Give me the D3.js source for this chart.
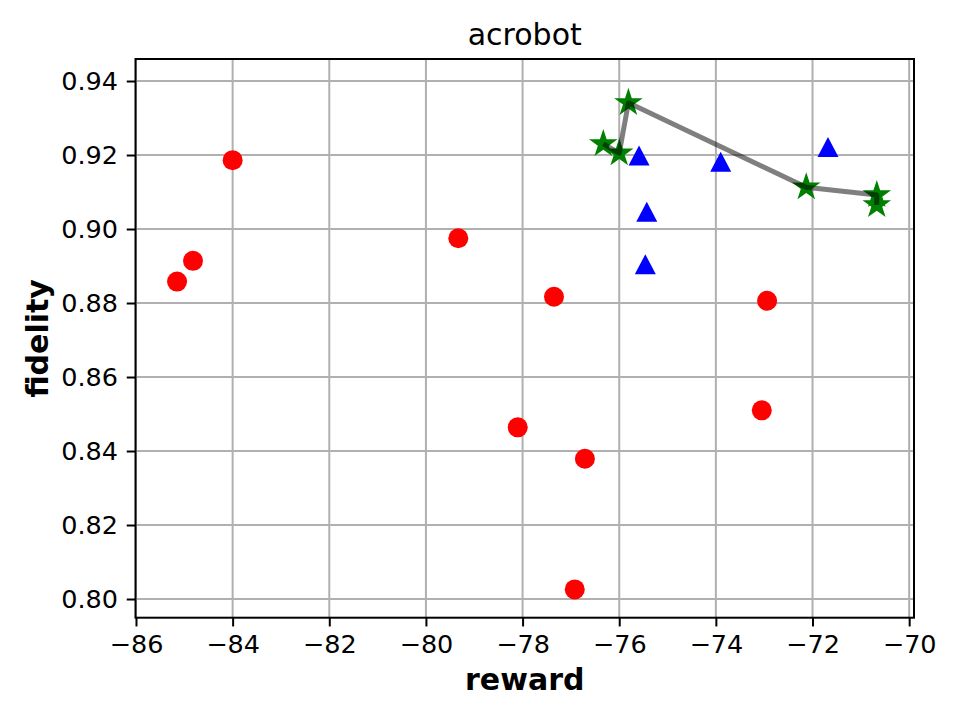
<!DOCTYPE html>
<html><head><meta charset="utf-8">
<script src="https://cdn.jsdelivr.net/npm/d3@7"></script>
<style>body{margin:0;background:#fff}svg{display:block}text{font-family:"DejaVu Sans",sans-serif}</style>
</head><body>
<script>
const title = "acrobot";
const xLabel = "reward";
const yLabel = "fidelity";
const xTicks = [-86, -84, -82, -80, -78, -76, -74, -72, -70];
const yTicks = [0.80, 0.82, 0.84, 0.86, 0.88, 0.90, 0.92, 0.94];

const redX = [-85.15, -84.82, -84.0, -79.33, -77.35, -72.94, -73.05, -78.10, -76.71, -76.92];
const redY = [0.8858, 0.8914, 0.9186, 0.8975, 0.8817, 0.8806, 0.8510, 0.8464, 0.8379, 0.8026];

const blueX = [-75.59, -73.90, -71.68, -75.43, -75.46];
const blueY = [0.9199, 0.9182, 0.9222, 0.9047, 0.8905];

const greenX = [-76.33, -76.00, -75.81, -72.13, -70.67, -70.67];
const greenY = [0.9230, 0.9205, 0.9341, 0.9113, 0.9092, 0.9065];

const W = 960, H = 720;
const m = {left: 135.5, right: 914, top: 59, bottom: 617.7};

const svg = d3.select("body").append("svg").attr("width", W).attr("height", H);

const x = d3.scaleLinear().domain([-86.01, -69.9]).range([m.left, m.right]);
const y = d3.scaleLinear().domain([0.79495, 0.94595]).range([m.bottom, m.top]);

// grid
const grid = svg.append("g");
grid.selectAll("line.gx").data(xTicks).join("line")
  .attr("x1", d => x(d)).attr("x2", d => x(d)).attr("y1", m.top).attr("y2", m.bottom)
  .attr("stroke", "#b0b0b0").attr("stroke-width", 2);
grid.selectAll("line.gy").data(yTicks).join("line")
  .attr("y1", d => y(d)).attr("y2", d => y(d)).attr("x1", m.left).attr("x2", m.right)
  .attr("stroke", "#b0b0b0").attr("stroke-width", 2);

// axes
const xAxis = d3.axisBottom(x).tickValues(xTicks).tickFormat(d3.format("d")).tickSize(8.75).tickPadding(8.75);
const yAxis = d3.axisLeft(y).tickValues(yTicks).tickFormat(d3.format(".2f")).tickSize(8.75).tickPadding(8.75);
const gx = svg.append("g").attr("transform", `translate(0,${m.bottom})`).call(xAxis);
const gy = svg.append("g").attr("transform", `translate(${m.left},0)`).call(yAxis);
[gx, gy].forEach(g => {
  g.select(".domain").remove();
  g.selectAll(".tick line").attr("stroke", "#000").attr("stroke-width", 2);
  g.selectAll(".tick text").attr("font-size", 25.5).attr("fill", "#000").attr("font-family", "DejaVu Sans");
});

// markers
const pts = svg.append("g");
pts.selectAll("circle").data(d3.range(redX.length)).join("circle")
  .attr("cx", i => x(redX[i])).attr("cy", i => y(redY[i])).attr("r", 10).attr("fill", "#ff0000");

function triPath(cx, cy) {
  const w = 10.5, h = 10;
  return `M${cx},${cy - h}L${cx + w},${cy + h}L${cx - w},${cy + h}Z`;
}
pts.selectAll("path.tri").data(d3.range(blueX.length)).join("path")
  .attr("class", "tri")
  .attr("d", i => triPath(x(blueX[i]), y(blueY[i])))
  .attr("fill", "#0000ff");

function starPath(cx, cy, R) {
  const r = R * 0.381966;
  let p = "";
  for (let k = 0; k < 10; k++) {
    const rad = k % 2 === 0 ? R : r;
    const a = -Math.PI / 2 + k * Math.PI / 5;
    p += (k === 0 ? "M" : "L") + (cx + rad * Math.cos(a)).toFixed(2) + "," + (cy + rad * Math.sin(a)).toFixed(2);
  }
  return p + "Z";
}
pts.selectAll("path.star").data(d3.range(greenX.length)).join("path")
  .attr("class", "star")
  .attr("d", i => starPath(x(greenX[i]), y(greenY[i]), 15))
  .attr("fill", "#008000");

const line = d3.line().x(i => x(greenX[i])).y(i => y(greenY[i]));
svg.append("path").attr("d", line(d3.range(greenX.length)))
  .attr("fill", "none").attr("stroke", "#000").attr("stroke-opacity", 0.5)
  .attr("stroke-width", 5).attr("stroke-linejoin", "round").attr("stroke-linecap", "butt");

// spines
svg.append("rect").attr("x", m.left).attr("y", m.top)
  .attr("width", m.right - m.left).attr("height", m.bottom - m.top)
  .attr("fill", "none").attr("stroke", "#000").attr("stroke-width", 2);

// labels
svg.append("text").attr("x", (m.left + m.right) / 2).attr("y", 45)
  .attr("text-anchor", "middle").attr("font-size", 30).text(title);
svg.append("text").attr("x", (m.left + m.right) / 2).attr("y", 690)
  .attr("text-anchor", "middle").attr("font-size", 30).attr("font-weight", "bold").text(xLabel);
svg.append("text").attr("transform", `translate(48,${(m.top + m.bottom) / 2}) rotate(-90)`)
  .attr("text-anchor", "middle").attr("font-size", 30).attr("font-weight", "bold").text(yLabel);
</script>
</body></html>
